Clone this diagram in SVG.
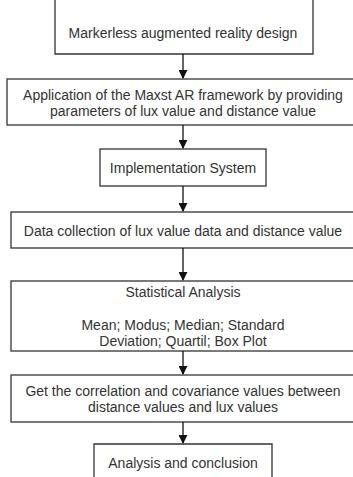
<svg xmlns="http://www.w3.org/2000/svg" width="353" height="477" viewBox="0 0 353 477">
<style>
.box{fill:#fff;stroke:#333;stroke-width:1.3}
.t{font-family:"Liberation Sans",Arial,sans-serif;font-size:14px;fill:#333;text-anchor:middle}
.c{stroke:#111;stroke-width:1.3;fill:none}
</style>
<defs>
<marker id="a" viewBox="0 0 10 10" refX="9" refY="5" markerWidth="9" markerHeight="9" markerUnits="userSpaceOnUse" orient="auto"><path d="M0,0 L10,5 L0,10 z" fill="#111"/></marker>
</defs>
<rect width="353" height="477" fill="#fff"/>
<g id="n1"><path class="box" d="M55,-2 V54 H313 V-2"/><text class="t" x="183" y="38">Markerless augmented reality design</text></g>
<g id="n2"><rect class="box" x="7" y="79" width="350" height="46"/><text class="t" x="183" y="100">Application of the Maxst AR framework by providing</text><text class="t" x="183" y="116">parameters of lux value and distance value</text></g>
<g id="n3"><rect class="box" x="100" y="149" width="166" height="37"/><text class="t" x="183" y="173">Implementation System</text></g>
<g id="n4"><rect class="box" x="11" y="212" width="346" height="36"/><text class="t" x="183" y="236">Data collection of lux value data and distance value</text></g>
<g id="n5"><rect class="box" x="11" y="281" width="346" height="70"/><text class="t" x="183" y="297">Statistical Analysis</text><text class="t" x="183" y="330">Mean; Modus; Median; Standard</text><text class="t" x="183" y="346">Deviation; Quartil; Box Plot</text></g>
<g id="n6"><rect class="box" x="11" y="375" width="346" height="47"/><text class="t" x="183" y="396">Get the correlation and covariance values between</text><text class="t" x="183" y="412">distance values and lux values</text></g>
<g id="n7"><path class="box" d="M94,480 V444 H272 V480"/><text class="t" x="183" y="468">Analysis and conclusion</text></g>
<g id="connectors">
<line class="c" x1="183" y1="54" x2="183" y2="78" marker-end="url(#a)"/>
<line class="c" x1="183" y1="125" x2="183" y2="148" marker-end="url(#a)"/>
<line class="c" x1="183" y1="186" x2="183" y2="211" marker-end="url(#a)"/>
<line class="c" x1="183" y1="248" x2="183" y2="280" marker-end="url(#a)"/>
<line class="c" x1="183" y1="351" x2="183" y2="374" marker-end="url(#a)"/>
<line class="c" x1="183" y1="422" x2="183" y2="443" marker-end="url(#a)"/>
</g>
</svg>
